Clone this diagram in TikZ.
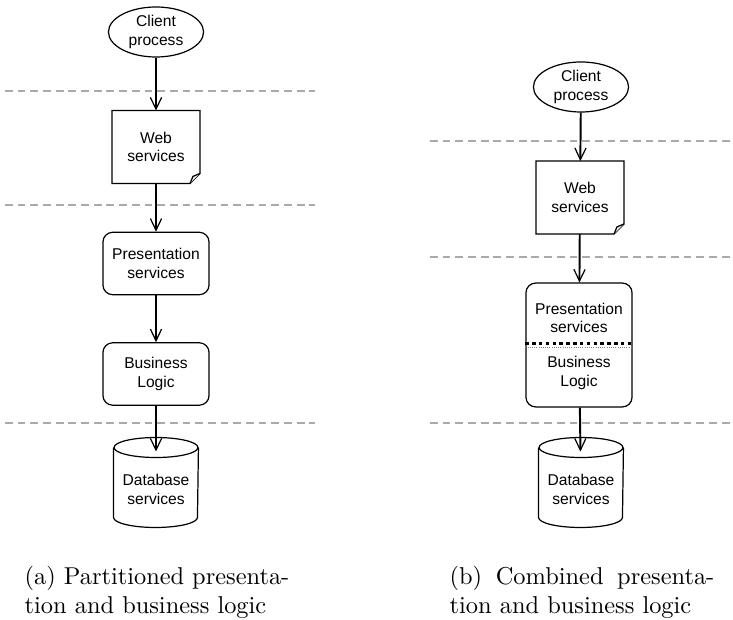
\documentclass[tikz,border=0pt]{standalone}
\usepackage{fontspec}
\usepackage{tikz}
\usetikzlibrary{shapes.geometric, arrows.meta}
\newfontfamily\diagfont{Liberation Sans}
\definecolor{layergray}{RGB}{170, 170, 170}
\definecolor{foldgray}{RGB}{232, 232, 232}

% note outline with a folded corner at the bottom right
\newcommand{\drawnote}[1]{%
  \draw[outline] (#1.north west) -- (#1.north east) -- ([yshift=4.1pt]#1.south east)
    -- ([xshift=-4.1pt]#1.south east) -- (#1.south west) -- cycle;
  \draw[outline, fill=foldgray] ([yshift=4.1pt]#1.south east)
    -- ([xshift=-2.9pt, yshift=2.9pt]#1.south east) -- ([xshift=-4.1pt]#1.south east);
}
% database cylinder round a node
\newcommand{\drawdb}[1]{%
  \draw[outline] ([yshift=1.64pt]#1.north west) -- ([yshift=4.1pt]#1.south west)
    arc[start angle=180, end angle=360, x radius=17.2pt, y radius=4.1pt]
    -- ([yshift=1.64pt]#1.north east);
  \draw[outline] ([yshift=1.64pt]#1.north) ellipse [x radius=17.2pt, y radius=4.1pt];
}

\begin{document}
\begin{tikzpicture}[
  x=0.41pt, y=-0.41pt,
  outline/.style={draw, line width=0.5pt},
  textbox/.style={inner sep=0pt, align=center, font=\diagfont\fontsize{6.4}{7.6}\selectfont},
  client/.style={textbox, outline, ellipse, minimum width=39pt, minimum height=20.5pt},
  note/.style={textbox, minimum width=35.7pt, minimum height=29.5pt},
  service/.style={textbox, outline, rounded corners=4pt, minimum width=43.5pt, minimum height=25.6pt},
  db/.style={textbox, minimum width=34.4pt, minimum height=30.75pt},
  flow/.style={-{Straight Barb[length=4.8pt, width=4.6pt, line width=0.5pt]}, line width=0.8pt},
  layer/.style={draw=layergray, line width=0.45pt, dash pattern=on 3.2pt off 2pt},
  caption/.style={text width=108.5pt, align=justify, inner sep=0pt, font=\fontsize{10}{12}\selectfont}
]
  \useasboundingbox (0, 0) rectangle (733, 620);

  % Layer boundaries
  \foreach \ly in {91, 205, 423}
    \draw[layer] (5, \ly) -- (315, \ly);
  \foreach \ly in {141, 257, 423}
    \draw[layer] (430, \ly) -- (733, \ly);

  % (a) Partitioned
  \node[client] (lclient) at (156, 32) {Client\\process};
  \node[note] (lweb) at (156, 147) {Web\\services};
  \drawnote{lweb}
  \node[service] (lpres) at (156, 263.5) {Presentation\\services};
  \node[service] (lbus) at (156, 374) {Business\\Logic};
  \node[db] (ldb) at (156, 489.5) {Database\\services};
  \drawdb{ldb}

  % (b) Combined
  \node[client] (rclient) at (581, 87) {Client\\process};
  \node[note] (rweb) at (580, 197.5) {Web\\services};
  \drawnote{rweb}
  \node[service, minimum height=50.8pt] (rpb) at (579, 345) {};
  \node[textbox] (rprestext) at (579, 318) {Presentation\\services};
  \node[textbox] (rbustext) at (579, 373) {Business\\Logic};
  \draw[line width=1.2pt, dash pattern=on 1.4pt off 1.4pt]
    ([yshift=0.8pt]rpb.west) -- ([yshift=0.8pt]rpb.east);
  \draw[gray, line width=0.3pt, dash pattern=on 0.4pt off 0.5pt]
    ([yshift=-0.8pt]rpb.west) -- ([yshift=-0.8pt]rpb.east);
  \node[db] (rdb) at (581, 489.5) {Database\\services};
  \drawdb{rdb}

  % Arrows
  \draw[flow] (lclient) -- (lweb);
  \draw[flow] (lweb) -- (lpres);
  \draw[flow] (lpres) -- (lbus);
  \draw[flow] (lbus) -- (ldb);
  \draw[flow] (rclient) -- (rweb);
  \draw[flow] (rweb) -- (rpb);
  \draw[flow] (rpb) -- (rdb);

  % Captions
  \node[caption] (lcap) at (157, 592) {(a) Partitioned presenta\-tion and business logic};
  \node[caption] (rcap) at (582, 592) {(b) Combined presenta\-tion and business logic};

\end{tikzpicture}
\end{document}
